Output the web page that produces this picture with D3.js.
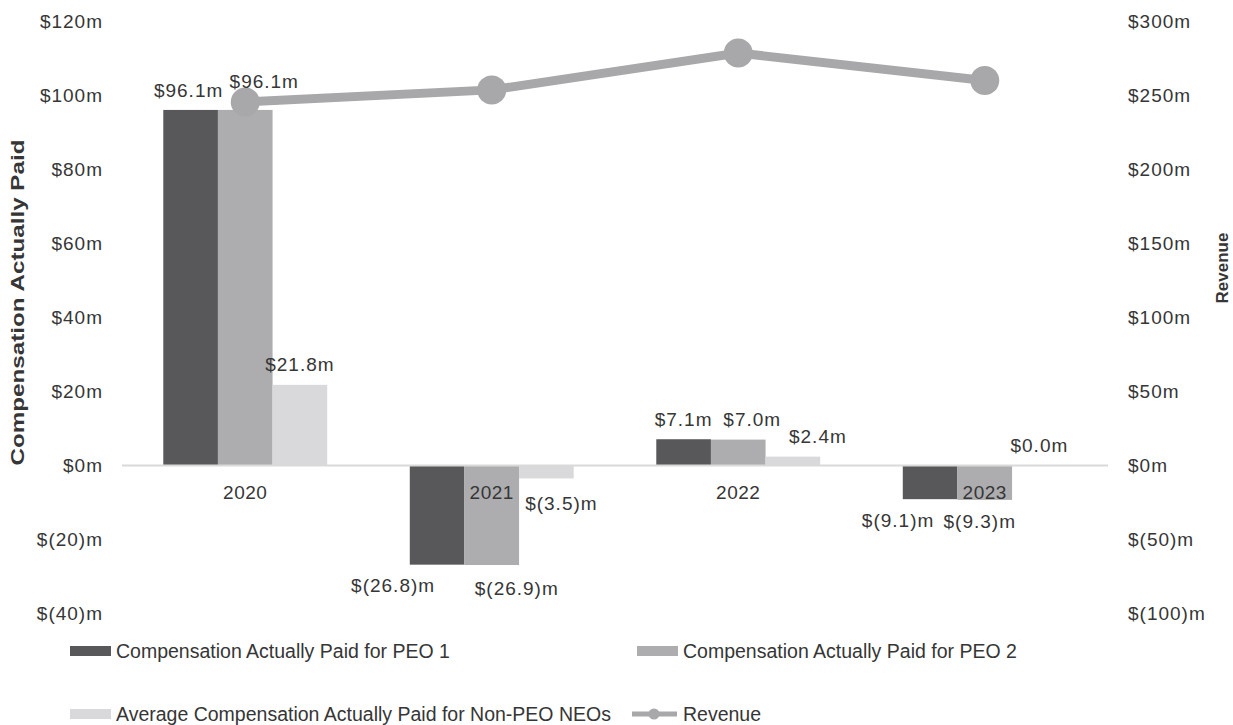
<!DOCTYPE html>
<meta charset="utf-8">
<style>
body { margin: 0; background: #fff; }
text { font-family: "Liberation Sans", Arial, sans-serif; fill: #363636; }
</style>
<body>
<script src="https://cdnjs.cloudflare.com/ajax/libs/d3/7.8.5/d3.min.js"></script>
<script>

var years = ["2020", "2021", "2022", "2023"];
var seriesNames = ["Compensation Actually Paid for PEO 1",
                   "Compensation Actually Paid for PEO 2",
                   "Average Compensation Actually Paid for Non-PEO NEOs"];
var peo1 = [96.1, -26.8, 7.1, -9.1];
var peo2 = [96.1, -26.9, 7.0, -9.3];
var nonPeo = [21.8, -3.5, 2.4, 0.0];
var revenue = [245.6, 253.8, 278.7, 260.1];
var leftTicks = [-40, -20, 0, 20, 40, 60, 80, 100, 120];
var rightTicks = [-100, -50, 0, 50, 100, 150, 200, 250, 300];

var colors = ["#58585a", "#adadb0", "#d9d9db"];
var lineColor = "#a8a8aa";

// label nudges [dx, dy] per series/year, as placed in the original
var nudges = [
    [[-2, 0], [-44, 0], [0, 0], [-32, 0]],
    [[19, -9], [25, 2], [14, 0], [-5, 0]],
    [[0, 0], [15, 4], [25, 0], [0, 0]]
];

var width = 1233,
    height = 725;

var svg = d3.select("body").append("svg")
    .attr("width", width)
    .attr("height", height);

var x = d3.scaleBand()
    .domain(years)
    .range([122, 1108])
    .paddingInner(0.335)
    .paddingOuter(0.1675);

var x1 = d3.scaleBand()
    .domain(d3.range(3))
    .range([0, x.bandwidth()]);

var y = d3.scaleLinear().domain([-40, 120]).range([613.5, 21.5]);
var y2 = d3.scaleLinear().domain([-100, 300]).range([613.5, 21.5]);

function money(v) {
    return v < 0 ? "$(" + (-v) + ")m" : "$" + v + "m";
}

// axes (labels only)
var left = svg.append("g")
    .attr("transform", "translate(122,0)")
    .call(d3.axisLeft(y).tickValues(leftTicks).tickSize(0).tickPadding(19).tickFormat(money));
var right = svg.append("g")
    .attr("transform", "translate(1108,0)")
    .call(d3.axisRight(y2).tickValues(rightTicks).tickSize(0).tickPadding(20).tickFormat(money));
[left, right].forEach(function(g) {
    g.select(".domain").remove();
    g.selectAll("text")
        .attr("fill", "#363636")
        .style("font-size", "19px")
        .style("letter-spacing", "1px")
        .style("font-family", "Liberation Sans, Arial, sans-serif");
});

// bars
var series = [peo1, peo2, nonPeo];
series.forEach(function(vals, s) {
    svg.append("g").selectAll("rect")
        .data(vals)
        .enter().append("rect")
        .attr("x", function(d, i) { return x(years[i]) + x1(s); })
        .attr("width", x1.bandwidth())
        .attr("y", function(d) { return y(Math.max(0, d)); })
        .attr("height", function(d) { return Math.abs(y(d) - y(0)); })
        .attr("fill", colors[s]);
});

// zero line
svg.append("line")
    .attr("x1", 122).attr("x2", 1108)
    .attr("y1", y(0)).attr("y2", y(0))
    .attr("stroke", "#d9d9d9")
    .attr("stroke-width", 2);

// category labels
svg.append("g").selectAll("text")
    .data(years)
    .enter().append("text")
    .attr("x", function(d) { return x(d) + x.bandwidth() / 2; })
    .attr("y", y(0) + 27)
    .attr("dy", "0.35em")
    .attr("text-anchor", "middle")
    .style("font-size", "19px")
    .style("letter-spacing", "0.5px")
    .text(function(d) { return d; });

// revenue line
var lineX = function(d, i) { return x(years[i]) + x.bandwidth() / 2; };
svg.append("path")
    .datum(revenue)
    .attr("fill", "none")
    .attr("stroke", lineColor)
    .attr("stroke-width", 9)
    .attr("d", d3.line().x(lineX).y(function(d) { return y2(d); }));
svg.append("g").selectAll("circle")
    .data(revenue)
    .enter().append("circle")
    .attr("cx", lineX)
    .attr("cy", function(d) { return y2(d); })
    .attr("r", 14.5)
    .attr("fill", lineColor);

// data labels
series.forEach(function(vals, s) {
    svg.append("g").selectAll("text")
        .data(vals)
        .enter().append("text")
        .attr("x", function(d, i) { return x(years[i]) + x1(s) + x1.bandwidth() / 2 + nudges[s][i][0]; })
        .attr("y", function(d, i) { return y(d) + (d < 0 ? 21 : -20) + nudges[s][i][1]; })
        .attr("dy", "0.35em")
        .attr("text-anchor", "middle")
        .style("font-size", "19px")
        .style("letter-spacing", "1px")
        .text(function(d) { return money(d.toFixed(1)).replace("$-", "$"); });
});

// axis titles
svg.append("text")
    .attr("transform", "translate(17.5,302.5) rotate(-90)")
    .attr("dy", "0.35em")
    .attr("text-anchor", "middle")
    .attr("textLength", 326)
    .attr("lengthAdjust", "spacingAndGlyphs")
    .style("font-size", "18px")
    .style("font-weight", "bold")
    .text("Compensation Actually Paid");
svg.append("text")
    .attr("transform", "translate(1222,268) rotate(-90)")
    .attr("dy", "0.35em")
    .attr("text-anchor", "middle")
    .style("font-size", "17px")
    .style("font-weight", "bold")
    .text("Revenue");

// legend
var legendItems = [
    {name: seriesNames[0], color: colors[0], type: "bar", x: 70, y: 651},
    {name: seriesNames[1], color: colors[1], type: "bar", x: 637, y: 651},
    {name: seriesNames[2], color: colors[2], type: "bar", x: 70, y: 714},
    {name: "Revenue", color: lineColor, type: "line", x: 632, y: 714}
];
var leg = svg.append("g").selectAll("g")
    .data(legendItems)
    .enter().append("g")
    .attr("transform", function(d) { return "translate(" + d.x + "," + d.y + ")"; });
leg.filter(function(d) { return d.type === "bar"; }).append("rect")
    .attr("x", 0).attr("y", -5)
    .attr("width", 41).attr("height", 10)
    .attr("fill", function(d) { return d.color; });
leg.filter(function(d) { return d.type === "line"; }).append("line")
    .attr("x1", 0).attr("x2", 45)
    .attr("stroke", lineColor).attr("stroke-width", 5);
leg.filter(function(d) { return d.type === "line"; }).append("circle")
    .attr("cx", 22).attr("r", 5.5)
    .attr("fill", lineColor);
leg.append("text")
    .attr("x", function(d) { return d.type === "bar" ? 46 : 51; })
    .attr("dy", "0.35em")
    .style("font-size", "19.5px")
    .text(function(d) { return d.name; });
</script>
